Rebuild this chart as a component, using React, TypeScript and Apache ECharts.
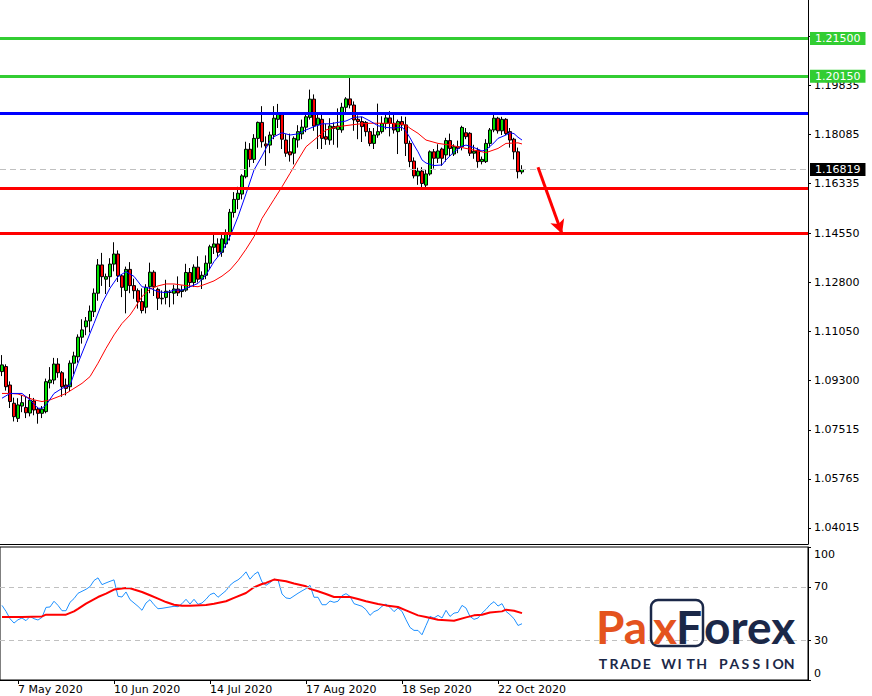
import React, { useEffect, useRef } from 'react';
import * as echarts from 'echarts';

// ---------- DATA (EUR/USD daily) ----------
const firstTradingDay = '2020-05-01';
const dateTickLabels = ['7 May 2020', '10 Jun 2020', '14 Jul 2020', '17 Aug 2020', '18 Sep 2020', '22 Oct 2020'];
const priceTicks = [1.04015, 1.05765, 1.07515, 1.093, 1.1105, 1.128, 1.1455, 1.16335, 1.18085, 1.19835, 1.21585];
const oscTicks = [0, 30, 70, 100];

const opens = [
  1.0960, 1.0978, 1.0912, 1.0847, 1.0793, 1.0837, 1.0832, 1.0812, 1.0855, 1.0826,
  1.0811, 1.0817, 1.0920, 1.0930, 1.0987, 1.0956, 1.0912, 1.0906, 1.0990, 1.1013,
  1.1083, 1.1120, 1.1141, 1.1174, 1.1240, 1.1341, 1.1290, 1.1299, 1.1344, 1.1380,
  1.1302, 1.1250, 1.1325, 1.1267, 1.1249, 1.1210, 1.1190, 1.1263, 1.1315, 1.1254,
  1.1222, 1.1225, 1.1243, 1.1240, 1.1255, 1.1246, 1.1251, 1.1314, 1.1278, 1.1333,
  1.1290, 1.1304, 1.1347, 1.1404, 1.1416, 1.1386, 1.1416, 1.1454, 1.1528, 1.1575,
  1.1594, 1.1656, 1.1754, 1.1718, 1.1793, 1.1850, 1.1773, 1.1769, 1.1805, 1.1861,
  1.1880, 1.1787, 1.1745, 1.1740, 1.1787, 1.1809, 1.1833, 1.1868, 1.1933, 1.1841,
  1.1861, 1.1799, 1.1787, 1.1835, 1.1825, 1.1823, 1.1904, 1.1934, 1.1912, 1.1861,
  1.1853, 1.1850, 1.1817, 1.1775, 1.1805, 1.1817, 1.1846, 1.1866, 1.1847, 1.1817,
  1.1853, 1.1841, 1.1775, 1.1712, 1.1659, 1.1676, 1.1626, 1.1666, 1.1745, 1.1722,
  1.1755, 1.1734, 1.1785, 1.1737, 1.1763, 1.1763, 1.1813, 1.1811, 1.1740, 1.1751,
  1.1710, 1.1710, 1.1775, 1.1823, 1.1865, 1.1820, 1.1861, 1.1817, 1.1790, 1.1745,
  1.1673,
];
const closes = [
  1.0984, 1.0906, 1.0853, 1.0799, 1.0841, 1.0849, 1.0813, 1.0858, 1.0823, 1.0811,
  1.0826, 1.0924, 1.0930, 1.0987, 1.0956, 1.0906, 1.0900, 1.0990, 1.1016, 1.1083,
  1.1109, 1.1141, 1.1176, 1.1240, 1.1341, 1.1299, 1.1299, 1.1344, 1.1380, 1.1302,
  1.1261, 1.1325, 1.1267, 1.1249, 1.1210, 1.1178, 1.1261, 1.1315, 1.1263, 1.1222,
  1.1220, 1.1247, 1.1243, 1.1255, 1.1241, 1.1251, 1.1314, 1.1278, 1.1333, 1.1290,
  1.1304, 1.1347, 1.1406, 1.1416, 1.1386, 1.1434, 1.1454, 1.1529, 1.1575, 1.1597,
  1.1659, 1.1754, 1.1718, 1.1793, 1.1850, 1.1781, 1.1766, 1.1805, 1.1865, 1.1880,
  1.1790, 1.1740, 1.1734, 1.1793, 1.1817, 1.1833, 1.1870, 1.1933, 1.1837, 1.1865,
  1.1793, 1.1790, 1.1837, 1.1829, 1.1837, 1.1904, 1.1934, 1.1912, 1.1859, 1.1853,
  1.1835, 1.1817, 1.1775, 1.1805, 1.1817, 1.1846, 1.1866, 1.1847, 1.1823, 1.1853,
  1.1841, 1.1775, 1.1710, 1.1659, 1.1676, 1.1632, 1.1666, 1.1745, 1.1722, 1.1748,
  1.1722, 1.1785, 1.1757, 1.1763, 1.1757, 1.1832, 1.1799, 1.1740, 1.1747, 1.1710,
  1.1718, 1.1775, 1.1823, 1.1865, 1.1820, 1.1861, 1.1810, 1.1787, 1.1745, 1.1674,
  1.16819,
];
const highs = [
  1.1019, 1.0986, 1.0925, 1.0867, 1.0865, 1.0876, 1.0872, 1.0880, 1.0866, 1.0834,
  1.0837, 1.0935, 1.0976, 1.1009, 1.1008, 1.0962, 1.0935, 1.1000, 1.1031, 1.1093,
  1.1147, 1.1155, 1.1196, 1.1257, 1.1362, 1.1384, 1.1310, 1.1365, 1.1422, 1.1393,
  1.1307, 1.1335, 1.1351, 1.1292, 1.1257, 1.1257, 1.1272, 1.1349, 1.1322, 1.1260,
  1.1250, 1.1288, 1.1252, 1.1270, 1.1300, 1.1268, 1.1345, 1.1330, 1.1343, 1.1372,
  1.1318, 1.1375, 1.1413, 1.1452, 1.1436, 1.1450, 1.1468, 1.1541, 1.1601, 1.1620,
  1.1665, 1.1781, 1.1776, 1.1808, 1.1853, 1.1908, 1.1800, 1.1817, 1.1908, 1.1916,
  1.1885, 1.1808, 1.1810, 1.1800, 1.1840, 1.1860, 1.1880, 1.1967, 1.1950, 1.1885,
  1.1882, 1.1845, 1.1865, 1.1850, 1.1900, 1.1920, 1.1940, 1.2011, 1.1925, 1.1875,
  1.1870, 1.1855, 1.1830, 1.1830, 1.1917, 1.1872, 1.1885, 1.1890, 1.1880, 1.1860,
  1.1872, 1.1870, 1.1785, 1.1725, 1.1688, 1.1690, 1.1683, 1.1750, 1.1755, 1.1772,
  1.1760, 1.1795, 1.1810, 1.1772, 1.1785, 1.1838, 1.1830, 1.1815, 1.1770, 1.1760,
  1.1728, 1.1790, 1.1830, 1.1880, 1.1870, 1.1870, 1.1865, 1.1830, 1.1795, 1.1760,
  1.1697,
];
const lows = [
  1.0944, 1.0892, 1.0830, 1.0782, 1.0780, 1.0815, 1.0794, 1.0800, 1.0804, 1.0774,
  1.0794, 1.0811, 1.0900, 1.0915, 1.0938, 1.0870, 1.0875, 1.0890, 1.0950, 1.0992,
  1.1060, 1.1090, 1.1100, 1.1155, 1.1213, 1.1266, 1.1237, 1.1262, 1.1318, 1.1280,
  1.1226, 1.1168, 1.1240, 1.1220, 1.1185, 1.1168, 1.1168, 1.1240, 1.1230, 1.1180,
  1.1200, 1.1200, 1.1190, 1.1200, 1.1230, 1.1225, 1.1245, 1.1260, 1.1262, 1.1278,
  1.1255, 1.1290, 1.1325, 1.1380, 1.1370, 1.1370, 1.1402, 1.1428, 1.1510, 1.1540,
  1.1575, 1.1650, 1.1690, 1.1705, 1.1760, 1.1760, 1.1695, 1.1740, 1.1790, 1.1830,
  1.1755, 1.1727, 1.1710, 1.1700, 1.1760, 1.1790, 1.1815, 1.1860, 1.1820, 1.1755,
  1.1755, 1.1770, 1.1770, 1.1770, 1.1760, 1.1813, 1.1880, 1.1900, 1.1820, 1.1790,
  1.1780, 1.1800, 1.1765, 1.1755, 1.1795, 1.1810, 1.1825, 1.1800, 1.1810, 1.1737,
  1.1820, 1.1730, 1.1690, 1.1650, 1.1627, 1.1612, 1.1615, 1.1660, 1.1685, 1.1705,
  1.1695, 1.1710, 1.1730, 1.1730, 1.1740, 1.1750, 1.1790, 1.1730, 1.1720, 1.1688,
  1.1700, 1.1705, 1.1760, 1.1815, 1.1810, 1.1805, 1.1805, 1.1760, 1.1718, 1.1650,
  1.1665,
];

// moving averages: [bar index, price]
const maFast = [
  [0, 1.0865], [2, 1.0882], [5, 1.0882], [7, 1.0859], [9, 1.0829], [10, 1.0829], [11, 1.0840], [13, 1.0882],
  [15, 1.0900], [17, 1.0912], [19, 1.0990], [21, 1.1061], [23, 1.1132], [25, 1.1204], [27, 1.1258], [29, 1.1299],
  [31, 1.1317], [33, 1.1300], [35, 1.1263], [37, 1.1258], [39, 1.1245], [41, 1.1242], [43, 1.1251], [45, 1.1251],
  [47, 1.1263], [49, 1.1275], [51, 1.1305], [53, 1.1353], [55, 1.1388], [57, 1.1442], [59, 1.1513], [61, 1.1595],
  [63, 1.1680], [65, 1.1730], [67, 1.1785], [68, 1.1799], [70, 1.1813], [72, 1.1805], [74, 1.1809], [76, 1.1823],
  [78, 1.1835], [80, 1.1845], [82, 1.1845], [84, 1.1850], [86, 1.1855], [88, 1.1868], [90, 1.1870], [92, 1.1855],
  [94, 1.1838], [96, 1.1832], [98, 1.1830], [100, 1.1833], [101, 1.1818], [102, 1.1795], [103, 1.1769], [104, 1.1745],
  [105, 1.1716], [106, 1.1705], [108, 1.1696], [110, 1.1698], [111, 1.1716], [113, 1.1745], [115, 1.1765], [116, 1.1769],
  [118, 1.1760], [120, 1.1748], [121, 1.1752], [123, 1.1777], [124, 1.1793], [126, 1.1805], [127, 1.1813], [128, 1.1810],
  [129, 1.1797], [130, 1.1787],
];
const maSlow = [
  [0, 1.0882], [2, 1.0882], [4, 1.0880], [6, 1.0870], [8, 1.0859], [10, 1.0853], [12, 1.0859], [14, 1.0870],
  [16, 1.0882], [18, 1.0900], [20, 1.0918], [22, 1.0942], [24, 1.0990], [26, 1.1043], [28, 1.1091], [30, 1.1132],
  [32, 1.1162], [33, 1.1183], [35, 1.1228], [37, 1.1255], [39, 1.1266], [41, 1.1273], [43, 1.1273], [45, 1.1269],
  [47, 1.1266], [49, 1.1263], [51, 1.1273], [53, 1.1284], [55, 1.1301], [57, 1.1323], [59, 1.1356], [61, 1.1397],
  [63, 1.1442], [65, 1.1507], [68, 1.1575], [70, 1.1620], [72, 1.1668], [74, 1.1716], [76, 1.1763], [79, 1.1799],
  [81, 1.1823], [84, 1.1835], [89, 1.1844], [92, 1.1847], [97, 1.1847], [101, 1.1841], [102, 1.1829], [104, 1.1811],
  [106, 1.1787], [109, 1.1775], [112, 1.1769], [116, 1.1757], [119, 1.1748], [121, 1.1742], [124, 1.1757], [126, 1.1775],
  [129, 1.1777], [130, 1.1773],
];

// oscillator panel (0..100)
const oscMain = [
  56.1, 51.6, 46.1, 42.8, 45.3, 46.6, 44.6, 47.8, 46.1, 45.1,
  47.1, 54.6, 54.9, 59.2, 56.1, 52.1, 52.1, 58.4, 61.2, 65.2,
  66.7, 68.2, 70.2, 74.8, 76.8, 71.7, 73.0, 74.2, 75.3, 62.9,
  62.4, 66.2, 60.4, 57.9, 55.4, 52.4, 57.9, 60.4, 56.6, 53.6,
  53.9, 54.4, 54.9, 55.4, 55.1, 57.4, 60.7, 57.1, 60.7, 56.9,
  57.9, 60.7, 64.2, 65.4, 62.2, 64.7, 67.2, 71.2, 73.7, 75.3,
  77.8, 81.3, 75.8, 79.3, 81.3, 73.7, 71.2, 73.2, 75.8, 75.3,
  64.7, 61.7, 61.2, 63.2, 65.2, 67.0, 68.7, 71.2, 62.2, 62.2,
  56.6, 56.6, 59.4, 58.4, 59.2, 63.4, 64.9, 62.9, 57.4, 56.4,
  55.4, 52.9, 48.6, 51.4, 52.6, 55.4, 57.1, 54.6, 51.4, 54.1,
  51.6, 45.3, 39.5, 37.3, 37.3, 34.0, 41.0, 47.8, 46.6, 48.6,
  46.6, 52.4, 47.8, 50.3, 50.8, 56.1, 54.1, 47.8, 45.6, 46.6,
  50.3, 53.1, 56.6, 58.9, 55.6, 57.4, 51.6, 49.1, 46.1, 41.0,
  42.3,
];
const oscSignal = [
  [0, 47.3], [5, 47.3], [10, 47.8], [11, 49.1], [16, 49.1], [18, 51.6], [19, 53.5], [21, 57.4], [24, 62.4],
  [26, 64.9], [28, 68.0], [31, 69.2], [32, 69.0], [33, 68.0], [35, 66.2], [37, 63.7], [39, 61.2], [41, 58.6],
  [43, 56.6], [45, 55.9], [47, 55.9], [51, 56.4], [53, 57.4], [56, 59.2], [58, 61.7], [61, 65.4], [63, 69.7],
  [65, 72.2], [66, 73.0], [68, 75.5], [71, 74.2], [73, 72.5], [76, 70.5], [77, 68.5], [79, 66.7], [81, 64.7],
  [83, 62.4], [87, 62.4], [89, 60.9], [91, 59.2], [94, 57.1], [96, 56.1], [99, 54.9], [101, 52.4], [104, 48.6],
  [106, 47.3], [109, 45.3], [113, 44.6], [116, 47.1], [118, 48.6], [120, 49.1], [122, 50.8], [125, 51.6],
  [126, 52.9], [128, 52.1], [130, 50.3],
];
const oscLevels = [70, 30];

// horizontal levels and annotation
const greenLevels = [1.215, 1.2015];
const blueLevels = [1.1884];
const redLevels = [1.1616, 1.1455];
const arrowFrom = [134, 1.1690];
const arrowTo = [140, 1.1452];

// ---------- helpers ----------
const MONTHS = ['Jan', 'Feb', 'Mar', 'Apr', 'May', 'Jun', 'Jul', 'Aug', 'Sep', 'Oct', 'Nov', 'Dec'];
function tradingDays(start: string, n: number): string[] {
  const out: string[] = [];
  const d = new Date(start + 'T00:00:00Z');
  while (out.length < n) {
    const wd = d.getUTCDay();
    if (wd !== 0 && wd !== 6) out.push(`${d.getUTCDate()} ${MONTHS[d.getUTCMonth()]} ${d.getUTCFullYear()}`);
    d.setUTCDate(d.getUTCDate() + 1);
  }
  return out;
}

const SLOTS = 202;
const FONT = 'DejaVu Sans';
const GREEN = '#32CD32';
const ORANGE = '#E4531E';
const NAVY = '#1B2848';

export default function App() {
  const ref = useRef<HTMLDivElement>(null);
  useEffect(() => {
    if (!ref.current) return;
    const chart = echarts.init(ref.current, null, { renderer: 'svg' });
    const days = tradingDays(firstTradingDay, opens.length);
    const categories = [...days, ...Array.from({ length: SLOTS - days.length }, (_, k) => `+${k + 1}`)];
    const candles = opens.map((o, i) => [o, closes[i], lows[i], highs[i]]);
    const lastPrice = closes[closes.length - 1];

    const priceLabel = (bg: string) => ({
      show: true,
      position: 'end',
      distance: 2,
      formatter: (p: any) => Number(p.value).toFixed(5),
      backgroundColor: bg,
      color: '#fff',
      padding: [1, 5, 1, 5],
      fontFamily: FONT,
      fontSize: 11,
    });

    const yMax = 1.1455 + 233 / 2800;
    const yMin = 1.1455 - (544 - 233) / 2800;

    const logoLetters = 'TRADE WITH PASSION'.split('');

    chart.setOption({
      animation: false,
      backgroundColor: '#ffffff',
      textStyle: { fontFamily: FONT },
      grid: [
        { left: -1, width: 809, top: 0, height: 544, show: false },
        { left: -1, width: 809, top: 547, height: 133, show: true, borderColor: '#000', borderWidth: 1, backgroundColor: 'transparent' },
      ],
      xAxis: [
        {
          type: 'category', gridIndex: 0, data: categories, boundaryGap: true,
          axisLine: { show: true, lineStyle: { color: '#000', width: 1 } },
          axisTick: { show: false }, axisLabel: { show: false }, splitLine: { show: false },
        },
        {
          type: 'category', gridIndex: 1, data: categories, boundaryGap: true,
          axisLine: { show: true, lineStyle: { color: '#000', width: 1 } },
          axisTick: {
            show: true, alignWithLabel: true, length: 4, lineStyle: { color: '#000' },
            interval: (_i: number, v: string) => dateTickLabels.includes(v),
          },
          axisLabel: {
            show: true, align: 'left', margin: 4, color: '#000', fontFamily: FONT, fontSize: 11,
            interval: (_i: number, v: string) => dateTickLabels.includes(v),
          },
          splitLine: { show: false },
        },
      ],
      yAxis: [
        {
          type: 'value', gridIndex: 0, position: 'right', min: yMin, max: yMax, scale: true,
          axisLine: { show: true, lineStyle: { color: '#000', width: 1 } },
          axisTick: { show: true, length: 3, customValues: priceTicks, lineStyle: { color: '#000' } },
          axisLabel: {
            show: true, customValues: priceTicks, margin: 6, color: '#000', fontFamily: FONT, fontSize: 11,
            formatter: (v: number) => v.toFixed(5),
          },
          splitLine: { show: false },
        },
        {
          type: 'value', gridIndex: 1, position: 'right', min: 0, max: 100,
          axisLine: { show: true, lineStyle: { color: '#000', width: 1 } },
          axisTick: { show: true, length: 3, customValues: oscTicks, lineStyle: { color: '#000' } },
          axisLabel: {
            show: true, customValues: oscTicks, margin: 6, color: '#000', fontFamily: FONT, fontSize: 11,
            formatter: (v: number) => (v === 100 ? '{t|100}' : v === 0 ? '{b|0}' : String(v)),
            rich: {
              t: { padding: [15, 0, 0, 0], fontFamily: FONT, fontSize: 11, color: '#000' },
              b: { padding: [0, 0, 14, 0], fontFamily: FONT, fontSize: 11, color: '#000' },
            },
          },
          splitLine: { show: false },
        },
      ],
      series: [
        {
          type: 'candlestick', xAxisIndex: 0, yAxisIndex: 0, data: candles, barWidth: 3,
          itemStyle: { color: '#00E000', color0: '#FF0000', borderColor: '#000', borderColor0: '#000', borderWidth: 1 },
          markLine: {
            silent: true, symbol: 'none', animation: false, precision: 5,
            data: [
              ...greenLevels.map((v) => ({ yAxis: v, lineStyle: { color: GREEN, width: 3, type: 'solid' }, label: priceLabel(GREEN) })),
              ...blueLevels.map((v) => ({ yAxis: v, lineStyle: { color: '#0000FF', width: 3, type: 'solid' }, label: { show: false } })),
              ...redLevels.map((v) => ({ yAxis: v, lineStyle: { color: '#FF0000', width: 3, type: 'solid' }, label: { show: false } })),
              { yAxis: lastPrice, lineStyle: { color: '#C0C0C0', width: 1, type: [6, 4] }, label: priceLabel('#000') },
              [
                { coord: arrowFrom, symbol: 'none' },
                { coord: arrowTo, symbol: 'arrow', symbolSize: [11, 14], lineStyle: { color: '#FF0000', width: 3, type: 'solid' }, label: { show: false } },
              ],
            ],
          },
        },
        {
          type: 'line', xAxisIndex: 0, yAxisIndex: 0, data: maSlow, showSymbol: false, symbol: 'none',
          lineStyle: { color: '#FF0000', width: 1 }, z: 3,
        },
        {
          type: 'line', xAxisIndex: 0, yAxisIndex: 0, data: maFast, showSymbol: false, symbol: 'none',
          lineStyle: { color: '#0000FF', width: 1 }, z: 3,
        },
        {
          type: 'line', xAxisIndex: 1, yAxisIndex: 1, data: oscMain, showSymbol: false, symbol: 'none',
          lineStyle: { color: '#1E90FF', width: 1 },
          markLine: {
            silent: true, symbol: 'none', precision: 2,
            data: oscLevels.map((v) => ({ yAxis: v, lineStyle: { color: '#C0C0C0', width: 1, type: [5, 4] }, label: { show: false } })),
          },
        },
        {
          type: 'line', xAxisIndex: 1, yAxisIndex: 1, data: oscSignal, showSymbol: false, symbol: 'none',
          lineStyle: { color: '#FF0000', width: 2 }, z: 3,
        },
      ],
      graphic: [
        { type: 'rect', shape: { x: 651, y: 600, width: 52, height: 46, r: 7 }, style: { fill: 'none', stroke: NAVY, lineWidth: 2.5 }, z: 10 },
        { type: 'text', x: 596, y: 626, style: { text: 'Pa', fill: ORANGE, font: '700 46px Lato', verticalAlign: 'middle', align: 'left' }, z: 11 },
        { type: 'text', x: 653, y: 626, style: { text: 'x', fill: ORANGE, font: '700 46px Lato', verticalAlign: 'middle', align: 'left' }, z: 11 },
        { type: 'text', x: 676, y: 626, style: { text: 'F', fill: NAVY, font: '700 46px Lato', verticalAlign: 'middle', align: 'left' }, z: 11 },
        { type: 'text', x: 704, y: 626, style: { text: 'orex', fill: NAVY, font: '700 46px Lato', verticalAlign: 'middle', align: 'left' }, z: 11 },
        ...logoLetters.map((ch, k) => ({
          type: 'text', x: 603 + k * 10.95, y: 663,
          style: { text: ch, fill: NAVY, font: '700 14px Lato', verticalAlign: 'middle', align: 'center' }, z: 11,
        })),
      ],
    });
    return () => chart.dispose();
  }, []);
  return <div ref={ref} style={{ position: 'fixed', left: 0, top: 0, width: 872, height: 696 }} />;
}
